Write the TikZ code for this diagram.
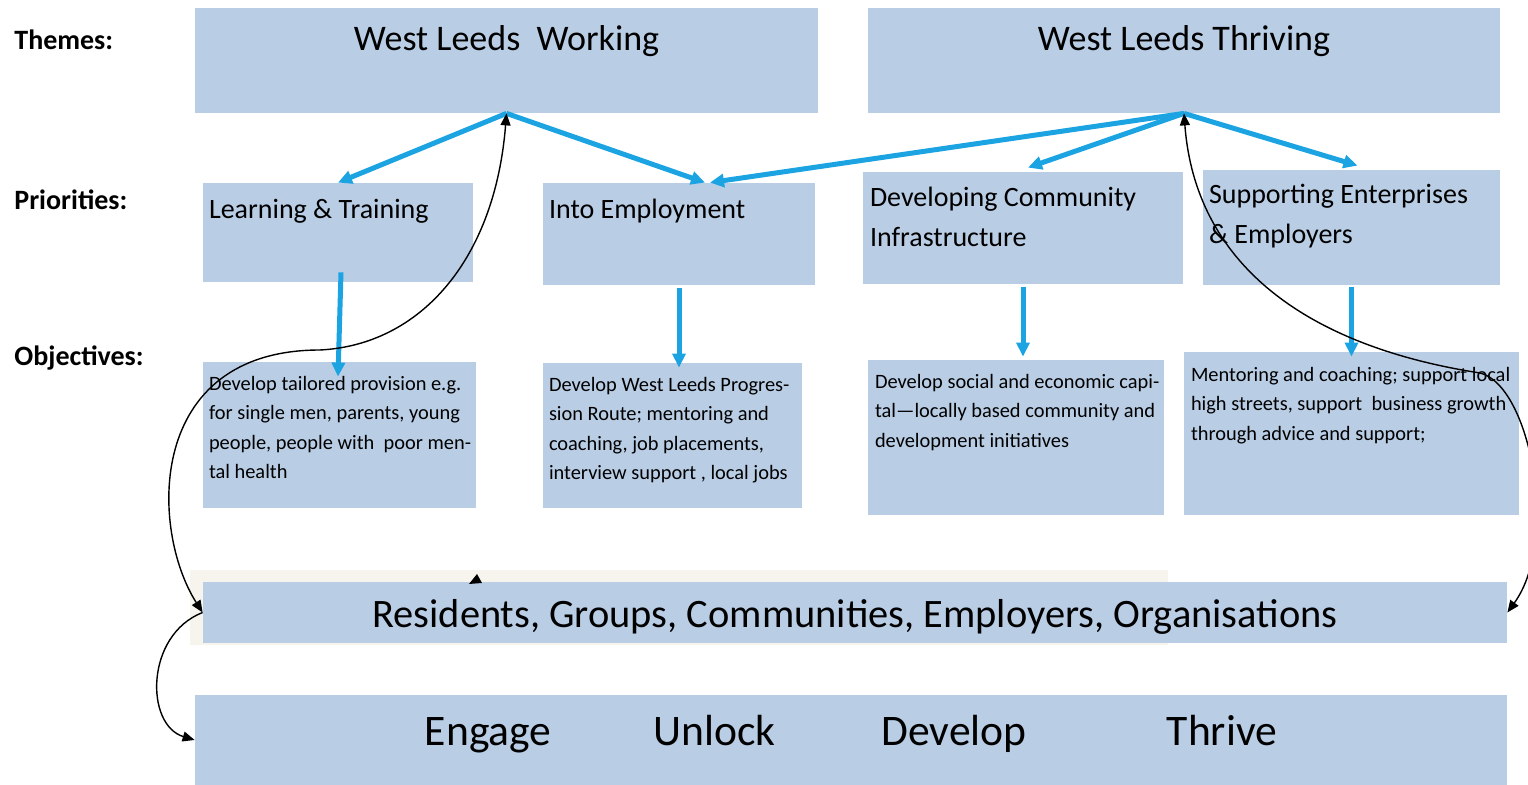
\documentclass[tikz,border=0pt]{standalone}
\usepackage{fontspec}
\setmainfont{Carlito}
\usetikzlibrary{positioning,fit,arrows.meta}

\definecolor{boxblue}{RGB}{185,205,229}
\definecolor{linkblue}{RGB}{28,163,226}
\definecolor{paleback}{RGB}{246,244,237}

\tikzset{
  box/.style={fill=boxblue, inner sep=0pt},
  rowlabel/.style={anchor=west, inner sep=0pt, font=\fontsize{14}{16}\selectfont\bfseries},
  themetext/.style={anchor=north, inner sep=0pt, font=\fontsize{18}{22}\selectfont},
  priotext/.style={anchor=north west, inner sep=0pt, align=left, font=\fontsize{14}{20}\selectfont},
  objtext/.style={anchor=north west, inner sep=0pt, align=left, font=\fontsize{10.2}{14.75}\selectfont},
  bigtext/.style={anchor=center, inner sep=0pt, font=\fontsize{21.8}{26}\selectfont},
  widetext/.style={anchor=center, inner sep=0pt, font=\fontsize{20.2}{24}\selectfont},
  bluelink/.style={draw=linkblue, line width=2.5pt, -{Triangle[length=7pt,width=6.5pt]}},
  feedback/.style={draw=black, line width=0.7pt},
  tip/.tip={Triangle[length=6pt,width=5pt]},
}

\begin{document}
\begin{tikzpicture}[x=0.5pt, y=-0.5pt]
  \useasboundingbox (0,0) rectangle (1528,785);

  % row headings
  \node[rowlabel] (themes) at (14,40) {Themes:};
  \node[rowlabel] (prios) at (14,200) {Priorities:};
  \node[rowlabel] (objs) at (14,358) {Objectives:};

  % themes
  \node[box, fit={(195,8) (818,113)},
    label={[themetext, yshift=-9pt]north:West Leeds\ \ Working}] (wlw) {};
  \node[box, fit={(868,8) (1500,113)},
    label={[themetext, yshift=-9pt]north:West Leeds Thriving}] (wlt) {};

  % priorities
  \node[box, fit={(203,183) (473,282)},
    label={[priotext, xshift=3pt, yshift=-8pt]north west:Learning \& Training}] (lt) {};
  \node[box, fit={(543,183) (815,285)},
    label={[priotext, xshift=3pt, yshift=-8pt]north west:Into Employment}] (ie) {};
  \node[box, fit={(863,172) (1183,284)},
    label={[priotext, xshift=3.5pt, yshift=-7.5pt]north west:{Developing Community\\Infrastructure}}] (dci) {};
  \node[box, fit={(1203,170) (1500,285)},
    label={[priotext, xshift=3pt, yshift=-7pt]north west:{Supporting Enterprises\\\& Employers}}] (see) {};

  % objectives
  \node[box, fit={(203,362) (476,508)},
    label={[objtext, xshift=3pt, yshift=-7pt]north west:{Develop tailored provision e.g.\\
      for single men, parents, young\\people, people with\ \ poor men-\\tal health}}] (obj1) {};
  \node[box, fit={(543,363) (802,508)},
    label={[objtext, xshift=3pt, yshift=-7pt]north west:{Develop West Leeds Progres-\\
      sion Route; mentoring and\\coaching, job placements,\\interview support , local jobs}}] (obj2) {};
  \node[box, fit={(868,360) (1164,515)},
    label={[objtext, xshift=3.5pt, yshift=-7pt]north west:{Develop social and economic capi-\\
      tal---locally based community and\\development initiatives}}] (obj3) {};
  \node[box, fit={(1184,352) (1519,515)},
    label={[objtext, xshift=3.5pt, yshift=-7.5pt]north west:{Mentoring and coaching; support local\\
      high streets, support\ \ business growth\\through advice and support;}}] (obj4) {};

  % who it is for, and how
  \fill[paleback] (190,570) rectangle (1168,645);
  \node[box, fit={(203,582) (1507,643)},
    label={[widetext, yshift=-2pt]center:Residents, Groups, Communities, Employers, Organisations}] (res) {};
  \node[box, fit={(195,695) (1507,785)},
    label={[bigtext, yshift=3pt]center:Engage\hspace{51pt}Unlock\hspace{53pt}Develop\hspace{70pt}Thrive}] (act) {};
  \fill (469,584) -- (482,583) -- (477,574) -- cycle;

  % themes to priorities to objectives
  \draw[bluelink] (wlw.south) -- (lt.north);
  \draw[bluelink] (wlw.south) -- ([xshift=13pt]ie.north);
  \draw[bluelink] (wlt.south) -- ([xshift=15.5pt]ie.north);
  \draw[bluelink] (wlt.south) -- ([xshift=2.5pt, yshift=2pt]dci.north);
  \draw[bluelink] (wlt.south) -- ([xshift=3pt, yshift=2pt]see.north);
  \draw[bluelink] ([xshift=1.5pt, yshift=5pt]lt.south) -- ([yshift=-7.5pt]lt.south |- obj1.north);
  \draw[bluelink] ([yshift=-1.5pt]ie.south) -- ([yshift=-2.5pt]ie.south |- obj2.north);
  \draw[bluelink] ([yshift=-1.5pt]dci.south) -- ([yshift=1.5pt]dci.south |- obj3.north);
  \draw[bluelink] ([yshift=-1pt]see.south) -- ([yshift=-2.5pt]see.south |- obj4.north);

  % feedback loops
  \draw[feedback, tip-tip] (wlw.south) .. controls (495,260) and (420,345) .. (320,350)
    .. controls (145,350) and (150,530) .. (res.west);
  \draw[feedback, -tip] (res.west) .. controls (145,635) and (145,725) .. (act.west);
  \draw[feedback, tip-tip] (wlt.south) .. controls (1195,260) and (1300,345) .. (1480,373)
    .. controls (1530,385) and (1560,540) .. (res.east);
\end{tikzpicture}
\end{document}
